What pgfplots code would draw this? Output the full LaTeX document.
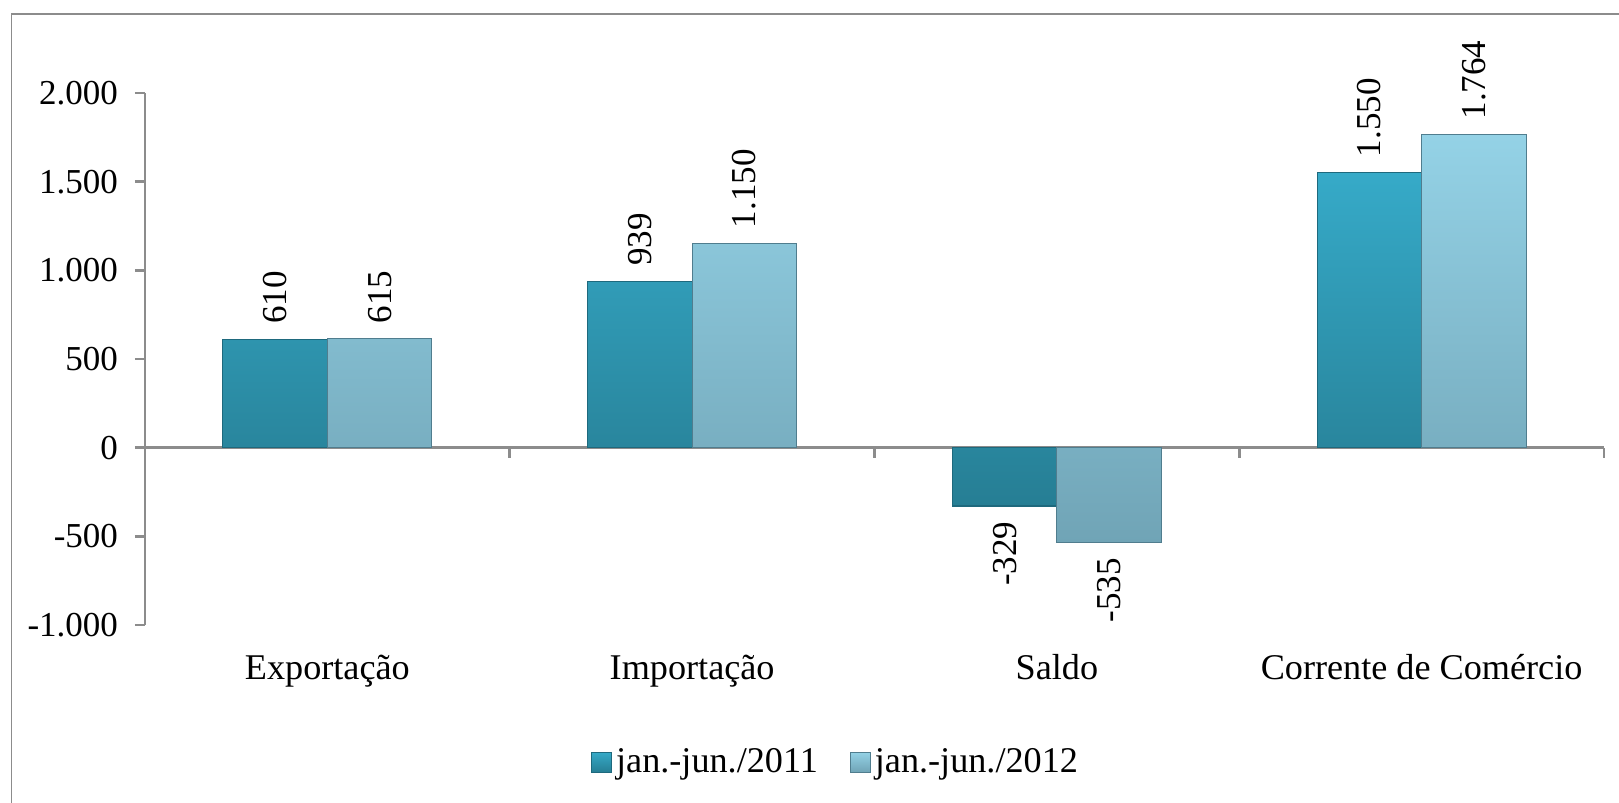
\documentclass[border=0pt]{standalone}
\usepackage{pgfplots}
\pgfplotsset{compat=1.18}
\usepackage{pgfplotstable}
\usepackage{fontspec}
\setmainfont{Liberation Serif}

\definecolor{axgray}{RGB}{140,140,140}
\definecolor{aTop}{RGB}{54,170,200}
\definecolor{aBot}{RGB}{38,126,148}
\definecolor{aEdge}{RGB}{30,105,125}
\definecolor{bTop}{RGB}{148,210,230}
\definecolor{bBot}{RGB}{112,164,182}
\definecolor{bEdge}{RGB}{80,125,142}
\newcommand\fsz{\fontsize{17.5}{21}\selectfont}
\newcommand\fszb{\fontsize{18.1}{22}\selectfont}

% anc: where the rotated value label sits (west = above, east = below)
\pgfplotstableread{
x y anc
0 610 west
1 939 west
2 -329 east
3 1550 west
}\dataA
\pgfplotstableread{
x y anc
0 615 west
1 1150 west
2 -535 east
3 1764 west
}\dataB

\begin{document}
\begin{tikzpicture}[font=\fsz]
\useasboundingbox (0,0) rectangle (809.5pt,-401.5pt);
\draw[axgray, line width=0.8pt] (5.75pt,-7pt) rectangle (830pt,-420pt);
\begin{axis}[
    at={(72.5pt,-312.5pt)}, anchor=south west,
    scale only axis, width=729.5pt, height=266pt,
    xmin=-0.5, xmax=3.5, ymin=-1000, ymax=2000,
    ybar=0pt, bar width=52.25pt,
    axis y line*=left, axis x line*=middle,
    axis line style={axgray, line width=1.3pt},
    tick align=outside, major tick length=5pt,
    tick style={axgray, line width=1.3pt},
    ytick={-1000,-500,...,2000},
    yticklabel style={xshift=-5pt},
    xtick={-0.5,0.5,1.5,2.5,3.5}, xticklabels={},
    extra x ticks={0,1,2,3},
    extra x tick labels={Exportação,Importação,Saldo,Corrente de Comércio},
    extra x tick style={major tick length=0pt,
        tick label style={anchor=base, yshift=-116pt, font=\fszb}},
    tick label style={font=\fsz, black},
    /pgf/number format/fixed,
    /pgf/number format/precision=0,
    /pgf/number format/1000 sep={.},
    /pgf/number format/assume math mode=true,
    clip=false,
    legend style={at={(0.3055,-0.2577)}, anchor=west, draw=none, fill=none,
        inner sep=0pt, font=\fszb, legend columns=2,
        /tikz/every even column/.append style={column sep=14pt}},
    legend cell align=left,
    legend image code/.code={\draw[#1, line width=0.5pt] (0pt,-5pt) rectangle (10pt,5pt);},
    vlabels/.style={point meta=explicit symbolic,
        nodes near coords={\pgfmathprintnumber{\pgfkeysvalueof{/data point/y}}},
        every node near coord/.append style={rotate=90, anchor=\pgfplotspointmeta,
            inner xsep=7.5pt, font=\fsz, black}},
]
\addlegendimage{draw=aEdge, top color=aTop, bottom color=aBot}
\addlegendentry{jan.-jun./2011}
\addlegendimage{draw=bEdge, top color=bTop, bottom color=bBot}
\addlegendentry{jan.-jun./2012}
\addplot[forget plot, bar shift=-26.125pt, draw=aEdge, line width=0.6pt,
    top color=aTop, bottom color=aBot, vlabels]
    table[x=x, y=y, meta=anc] {\dataA};
\addplot[forget plot, bar shift=26.125pt, draw=bEdge, line width=0.6pt,
    top color=bTop, bottom color=bBot, vlabels]
    table[x=x, y=y, meta=anc] {\dataB};
\end{axis}
\end{tikzpicture}
\end{document}
